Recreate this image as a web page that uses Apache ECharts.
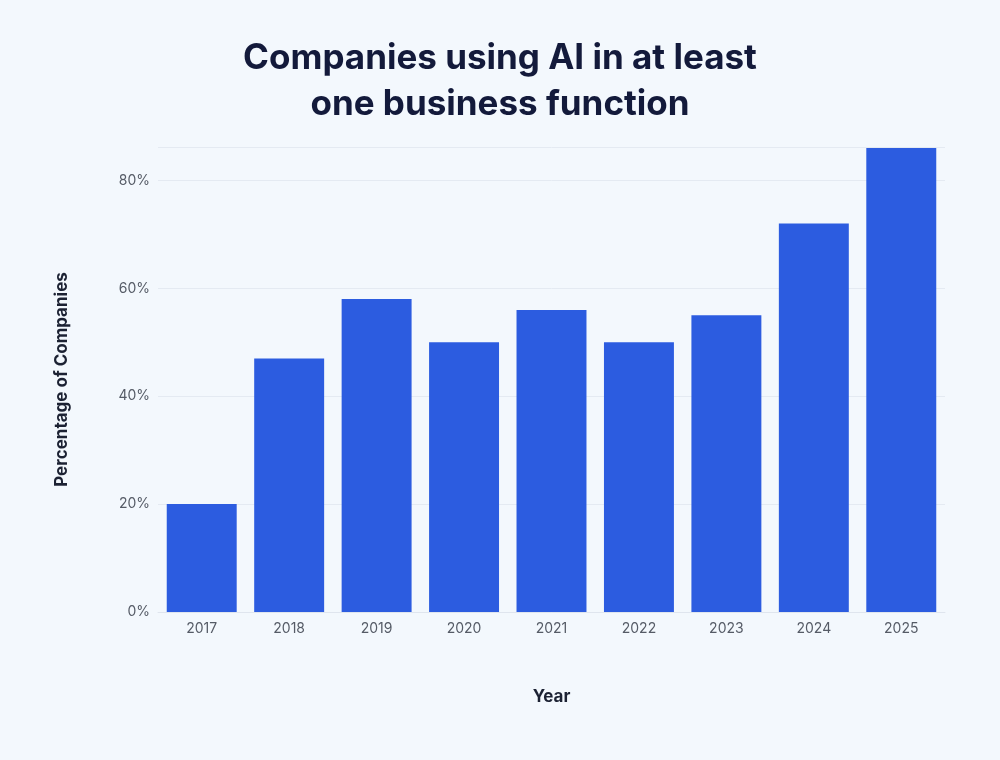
<!DOCTYPE html>
<html>
<head>
<meta charset="utf-8">
<script src="https://cdn.jsdelivr.net/npm/echarts@6/dist/echarts.min.js"></script>
<style>html,body{margin:0;background:#f3f8fd;}#main{width:1000px;height:760px;}</style>
</head>
<body>
<div id="main"></div>
<script>
var years = ['2017', '2018', '2019', '2020', '2021', '2022', '2023', '2024', '2025'];
var shares = [20, 47, 58, 50, 56, 50, 55, 72, 86];

var myChart = echarts.init(document.getElementById('main'));
var option = {
	backgroundColor: '#f3f8fd',
	title: {
		text: 'Companies using AI in at least\none business function',
		left: 'center',
		top: 30,
		textStyle: {
			fontFamily: 'Inter',
			fontSize: 35,
			fontWeight: 'bold',
			color: '#131a3b',
			lineHeight: 46
		}
	},
	grid: { left: 158, right: 55, top: 147, bottom: 148 },
	xAxis: {
		type: 'category',
		data: years,
		name: 'Year',
		nameLocation: 'middle',
		nameGap: 76,
		nameTextStyle: { fontFamily: 'Inter', fontSize: 17, fontWeight: 'bold', color: '#1c2233' },
		axisLine: { lineStyle: { color: '#dfe5ee' } },
		axisTick: { show: false },
		axisLabel: { fontFamily: 'Inter', fontSize: 14, color: '#555b66', margin: 10 }
	},
	yAxis: {
		type: 'value',
		min: 0,
		max: 86.2,
		interval: 20,
		name: 'Percentage of Companies',
		nameLocation: 'middle',
		nameGap: 88,
		nameTextStyle: { fontFamily: 'Inter', fontSize: 17, fontWeight: 'bold', color: '#1c2233' },
		axisLabel: { formatter: '{value}%', fontFamily: 'Inter', fontSize: 14, color: '#555b66', showMaxLabel: false },
		splitLine: { lineStyle: { color: '#e4eaf2' } }
	},
	series: [{
		type: 'bar',
		data: shares,
		barCategoryGap: '20%',
		itemStyle: { color: '#2c5ce0' }
	}]
};
myChart.setOption(option);
</script>
</body>
</html>
